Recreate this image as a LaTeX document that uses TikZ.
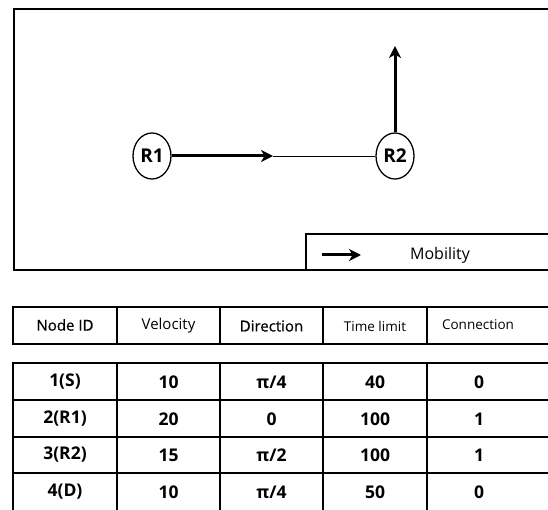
\documentclass[tikz,border=0pt]{standalone}
\usepackage{fontspec}
\setmainfont{Open Sans}
\newfontfamily\semifont[FakeBold=0.6]{Open Sans}
\usetikzlibrary{arrows.meta,shapes.geometric}
\begin{document}
\begin{tikzpicture}[x=1pt,y=-1pt,
  frame/.style={line width=1.6pt},
  grid/.style={line width=2pt},
  rnode/.style={ellipse,draw,line width=1.3pt,minimum width=38pt,minimum height=46pt,inner sep=0pt,font=\bfseries\fontsize{19}{21}\selectfont},
  mob/.style={line width=3pt,-{Stealth[length=12pt,width=12pt,inset=3.5pt]}},
  link/.style={line width=0.9pt},
  head/.style={font=\fontsize{15}{17}\selectfont},
  headsemi/.style={font=\semifont\fontsize{15}{17}\selectfont},
  headsmall/.style={font=\fontsize{13.5}{16}\selectfont},
  cell/.style={font=\bfseries\fontsize{17.5}{20}\selectfont}]
\useasboundingbox (0,0) rectangle (548,510);
\clip (0,0) rectangle (548,510);

% scenario frame
\draw[frame] (14,9) rectangle (570,270);

% relay nodes and their movement
\node[rnode] (r1) at (152,156) {R1};
\node[rnode] (r2) at (395,156) {R2};
\coordinate (mid) at (273,156);
\coordinate (up) at (395,46);
\draw[mob] (r1) -- (mid);
\draw[link] (mid) -- (r2);
\draw[mob] (r2.north) -- (up);

% legend
\draw[frame] (306,270) -- (306,234) -- (570,234);
\coordinate (la) at (322,255);
\coordinate (lb) at (361,255);
\draw[mob] (la) -- (lb);
\node[font=\fontsize{16}{18}\selectfont] (mobility) at (440,255) {Mobility};

% header row
\draw[grid] (13,307) rectangle (570,344);
\foreach \x in {117,220,323,427} \draw[grid] (\x,307) -- (\x,344);
\node[headsemi] (h1) at (65,325) {Node ID};
\node[head] (h2) at (168.5,326) {Velocity};
\node[headsemi] (h3) at (271.5,326) {Direction};
\node[headsmall] (h4) at (375,326) {Time limit};
\node[headsmall] (h5) at (478,325) {Connection};

% data rows
\draw[grid] (13,520) -- (13,363) -- (570,363);
\foreach \y in {400,437,473} \draw[grid] (13,\y) -- (570,\y);
\foreach \x in {117,220,323,427} \draw[grid] (\x,363) -- (\x,520);

\node[cell] (a1) at (65,382) {1(S)};
\node[cell] (a2) at (168.5,382) {10};
\node[cell] (a3) at (271.5,382) {π/4};
\node[cell] (a4) at (375,382) {40};
\node[cell] (a5) at (479,382) {0};

\node[cell] (b1) at (65,419) {2(R1)};
\node[cell] (b2) at (168.5,419) {20};
\node[cell] (b3) at (271.5,419) {0};
\node[cell] (b4) at (375,419) {100};
\node[cell] (b5) at (479,419) {1};

\node[cell] (c1) at (65,455) {3(R2)};
\node[cell] (c2) at (168.5,455) {15};
\node[cell] (c3) at (271.5,455) {π/2};
\node[cell] (c4) at (375,455) {100};
\node[cell] (c5) at (479,455) {1};

\node[cell] (d1) at (65,492) {4(D)};
\node[cell] (d2) at (168.5,492) {10};
\node[cell] (d3) at (271.5,492) {π/4};
\node[cell] (d4) at (375,492) {50};
\node[cell] (d5) at (479,492) {0};
\end{tikzpicture}
\end{document}
